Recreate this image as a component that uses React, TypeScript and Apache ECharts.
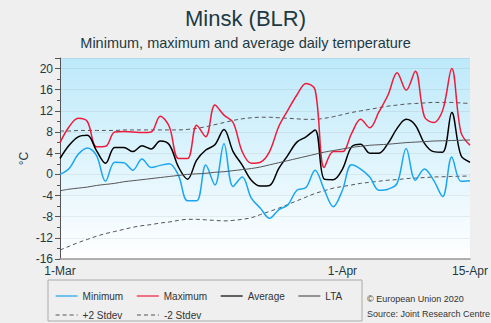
import React, { useEffect, useRef } from "react";
import * as echarts from "echarts";

const categories = [
  "1-Mar","2-Mar","3-Mar","4-Mar","5-Mar","6-Mar","7-Mar","8-Mar","9-Mar","10-Mar",
  "11-Mar","12-Mar","13-Mar","14-Mar","15-Mar","16-Mar","17-Mar","18-Mar","19-Mar","20-Mar",
  "21-Mar","22-Mar","23-Mar","24-Mar","25-Mar","26-Mar","27-Mar","28-Mar","29-Mar","30-Mar",
  "31-Mar","1-Apr","2-Apr","3-Apr","4-Apr","5-Apr","6-Apr","7-Apr","8-Apr","9-Apr",
  "10-Apr","11-Apr","12-Apr","13-Apr","14-Apr","15-Apr",
];
const shownLabels = ["1-Mar", "1-Apr", "15-Apr"];

const minimum = [
  0, 1.1, 3.8, 5, 3.6, -1.3, 2.3, 2.2, 0.8, 2.9,
  1.3, 1.7, 2, -0.2, -5, -5, 1.75, -2, 5.8, -2.3,
  -0.5, -4.5, -6.4, -8.3, -6.7, -5.8, -3, -2.5, 0.8, -2.9,
  -6.1, -3, 1.8, 1.0, -0.5, -3, -2.8, -1.7, 4.9, -1.1,
  1, -1.1, -4.2, 3.3, -1.3, -1.2,
];
const maximum = [
  6, 9, 10.6, 10, 5.2, 5.3, 8, 8.1, 8, 7.9,
  8, 11, 9, 3, 3, 9.3, 7.1, 13.1, 11.2, 9.8,
  4.3, 2.1, 2.3, 4.3, 9, 12.1, 15, 17.2, 16, 1.3,
  4.3, 4.3, 7.7, 10.4, 8.8, 11.8, 15, 19.2, 15.9, 19.5,
  10.9, 9.8, 12.1, 20, 8, 5.5,
];
const average = [
  3, 5.5, 7.1, 7.4, 4.5, 2.1, 5.1, 5.1, 4.3, 5.4,
  4.8, 6.3, 5.6, 1.4, -0.9, 2.7, 4.6, 5.6, 8.5, 4.3,
  1.75, -1.1, -2.2, -2.1, 1.1, 3.6, 6.1, 7.1, 8.4, -0.9,
  -1, 1.0, 5.2, 5.7, 4, 4, 5.85, 8.7, 10.4, 9.3,
  5.85, 4.3, 4.2, 11.7, 3.6, 2.3,
];
const lta = [
  -3.1, -2.8, -2.6, -2.4, -2.1, -1.9, -1.7, -1.4, -1.2, -1.0,
  -0.8, -0.6, -0.4, -0.2, 0, 0.1, 0.2, 0.4, 0.5, 0.7,
  0.9, 1.1, 1.4, 1.8, 2.2, 2.6, 3.0, 3.4, 3.8, 4.2,
  4.5, 4.8, 5.1, 5.3, 5.5, 5.6, 5.7, 5.85, 6.0, 6.1,
  6.2, 6.3, 6.35, 6.4, 6.45, 6.5,
];
const plus2 = [
  8.2, 8.2, 8.3, 8.3, 8.3, 8.3, 8.3, 8.4, 8.4, 8.4,
  8.4, 8.4, 8.4, 8.4, 8.5, 8.7, 9.0, 9.4, 9.8, 10.2,
  10.5, 10.7, 10.8, 10.8, 10.7, 10.6, 10.5, 10.4, 10.4, 10.6,
  10.9, 11.3, 11.7, 12.0, 12.3, 12.6, 12.9, 13.1, 13.3, 13.4,
  13.5, 13.6, 13.6, 13.6, 13.5, 13.4,
];
const minus2 = [
  -14.3, -13.6, -12.9, -12.3, -11.7, -11.2, -10.8, -10.4, -10.0, -9.7,
  -9.5, -9.2, -9.0, -8.7, -8.5, -8.5, -8.6, -8.7, -8.8, -8.7,
  -8.5, -8.2, -7.6, -7.0, -6.4, -5.7, -5.0, -4.3, -3.6, -3.1,
  -2.6, -2.3, -2.0, -1.7, -1.5, -1.3, -1.1, -1.0, -0.8, -0.7,
  -0.6, -0.5, -0.45, -0.4, -0.35, -0.3,
];

const FONT = "'Liberation Sans', Arial, sans-serif";
const TXT = "#1c3a42";

export default function App() {
  const ref = useRef<HTMLDivElement>(null);
  useEffect(() => {
    if (!ref.current) return;
    const chart = echarts.init(ref.current, undefined, { renderer: "svg" });
    const line = (name: string, data: number[], color: string, width: number, type: any = "solid") => ({
      name,
      type: "line",
      data,
      smooth: 0.35,
      symbol: "none",
      lineStyle: { color, width, type },
      itemStyle: { color },
      z: type === "solid" ? 3 : 2,
    });
    const legendCommon = {
      itemWidth: 22,
      itemHeight: 12,
      itemStyle: { opacity: 0, borderWidth: 0 },
      lineStyle: { width: 1.2 },
      textStyle: { fontSize: 10, color: "#333", fontFamily: FONT },
    };
    chart.setOption({
      animation: false,
      backgroundColor: "#efefef",
      textStyle: { fontFamily: FONT },
      title: [
        {
          text: "Minsk (BLR)",
          left: "center",
          top: 2,
          textStyle: { fontSize: 22, fontWeight: "normal", color: TXT, fontFamily: FONT },
        },
        {
          text: "Minimum, maximum and average daily temperature",
          left: "center",
          top: 30,
          textStyle: { fontSize: 14.5, fontWeight: "normal", color: TXT, fontFamily: FONT },
        },
      ],
      grid: {
        left: 60,
        right: 18,
        top: 58,
        bottom: 64,
        show: true,
        borderWidth: 0,
        backgroundColor: new echarts.graphic.LinearGradient(0, 0, 0, 1, [
          { offset: 0, color: "#bde9fa" },
          { offset: 1, color: "#ffffff" },
        ]),
      },
      legend: [
        {
          ...legendCommon,
          data: ["Minimum", "Maximum", "Average", "LTA"],
          left: 50,
          top: 286,
          itemGap: 13,
        },
        {
          ...legendCommon,
          data: ["+2 Stdev", "-2 Stdev"],
          left: 50,
          top: 305,
          itemGap: 14,
        },
      ],
      xAxis: {
        type: "category",
        data: categories,
        boundaryGap: false,
        axisLine: { onZero: false, lineStyle: { color: "#999", width: 1.5 } },
        axisTick: { show: false },
        axisLabel: {
          interval: (i: number, v: string) => shownLabels.includes(v),
          fontSize: 12,
          color: TXT,
          margin: 6,
          fontFamily: FONT,
        },
        splitLine: { show: false },
      },
      yAxis: {
        type: "value",
        min: -16,
        max: 22,
        interval: 4,
        name: "°C",
        nameLocation: "middle",
        nameGap: 30,
        nameMoveOverlap: false,
        nameTextStyle: { fontSize: 12, color: TXT, fontFamily: FONT },
        axisLine: { show: true, lineStyle: { color: "#555" } },
        axisTick: { show: true, length: 5, lineStyle: { color: "#555" } },
        minorTick: { show: true, splitNumber: 2, length: 3, lineStyle: { color: "#555" } },
        axisLabel: { fontSize: 12, color: TXT, margin: 7, showMaxLabel: false, fontFamily: FONT },
        splitLine: { show: true, lineStyle: { color: "rgba(0,0,0,0.06)" } },
      },
      graphic: [
        {
          type: "rect",
          shape: { x: 48, y: 280, width: 314, height: 41 },
          style: { fill: "none", stroke: "#aaa", lineWidth: 1 },
        },
        {
          type: "text",
          x: 367,
          y: 299,
          style: { text: "© European Union 2020", fontSize: 9, fill: "#333", fontFamily: FONT, verticalAlign: "middle" },
        },
        {
          type: "text",
          x: 367,
          y: 314,
          style: { text: "Source: Joint Research Centre", fontSize: 9, fill: "#333", fontFamily: FONT, verticalAlign: "middle" },
        },
      ],
      series: [
        line("Minimum", minimum, "#1aa6f0", 1.5),
        line("Maximum", maximum, "#ee1c3c", 1.5),
        line("Average", average, "#000000", 1.5),
        line("LTA", lta, "#555555", 1),
        line("+2 Stdev", plus2, "#555555", 1, [4, 3]),
        line("-2 Stdev", minus2, "#555555", 1, [4, 3]),
      ],
    });
    return () => chart.dispose();
  }, []);
  return <div ref={ref} style={{ width: 491, height: 323, position: "absolute", left: 0, top: 0 }} />;
}
